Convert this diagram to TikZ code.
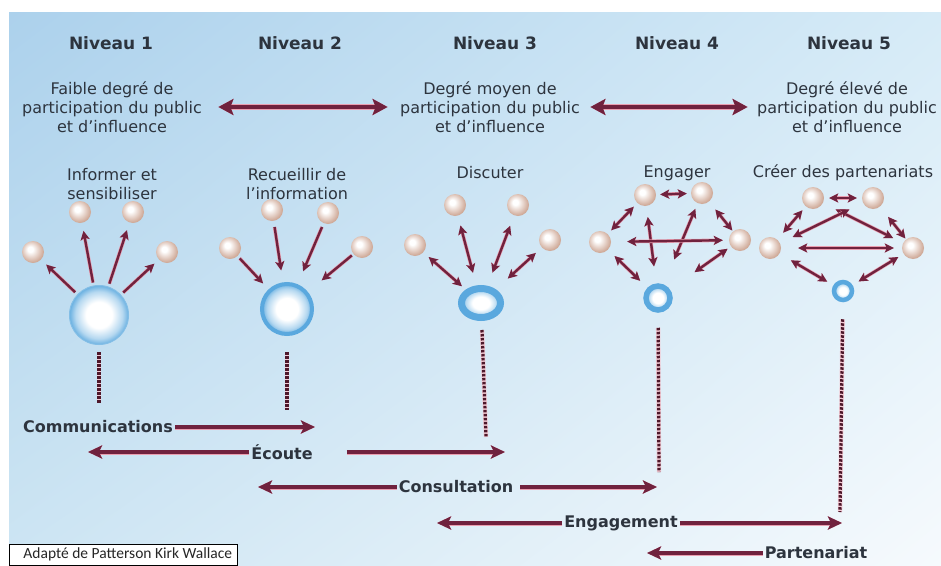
\documentclass[tikz,border=0pt]{standalone}
\usepackage{fontspec}
\setmainfont{DejaVu Sans}
\newfontfamily\srcfont{Carlito}
\usetikzlibrary{arrows.meta,shapes.geometric,shadings}

\definecolor{wine}{RGB}{112,34,62}
\definecolor{halo}{RGB}{234,158,176}
\definecolor{ink}{RGB}{45,52,62}
\definecolor{hubblue}{RGB}{90,168,222}
\definecolor{balltan}{RGB}{206,168,150}
\definecolor{skyA}{RGB}{172,209,236}
\definecolor{skyB}{RGB}{214,235,247}
\definecolor{skyC}{RGB}{205,229,243}
\definecolor{skyD}{RGB}{246,250,253}

\pgfdeclareradialshading{pearl}{\pgfpoint{-7bp}{7bp}}{color(0bp)=(white); color(6bp)=(white); color(27bp)=(balltan); color(50bp)=(balltan)}
\pgfdeclareradialshading{hubglow}{\pgfpoint{0bp}{0bp}}{color(0bp)=(white); color(11bp)=(white); color(20bp)=(hubblue!45); color(25bp)=(hubblue!90); color(50bp)=(hubblue!90)}

\tikzset{
  lvl/.style={text=ink, font=\fontsize{17}{20}\selectfont\bfseries},
  lbl/.style={text=ink, align=center, font=\fontsize{16}{19}\selectfont},
  mode/.style={text=ink, inner sep=2pt, font=\fontsize{16}{19}\selectfont\bfseries},
  pearl/.style={circle, minimum size=22pt, inner sep=0pt, shade, shading=pearl},
  hub/.style={circle, inner sep=0pt, draw=hubblue, shade, shading=hubglow},
  link/.style={draw=wine, line width=2.4pt, preaction={draw=halo, line width=3.6pt}},
  onearr/.style={link, -{Stealth[length=9pt,width=9pt,inset=2pt]}},
  twoarr/.style={link, {Stealth[length=9pt,width=9pt,inset=2pt]}-{Stealth[length=9pt,width=9pt,inset=2pt]}},
  bigarr/.style={draw=wine, line width=3.5pt, preaction={draw=halo, line width=5pt},
    -{Stealth[length=14pt,width=13pt,inset=3pt]}},
  dblarr/.style={draw=wine, line width=4.5pt, preaction={draw=halo, line width=6pt},
    {Stealth[length=15pt,width=16pt,inset=3pt]}-{Stealth[length=15pt,width=16pt,inset=3pt]}},
  dots/.style={draw=wine!70!black, line width=3.2pt, dash pattern=on 2.5pt off 1.5pt,
    preaction={draw=halo!55, line width=4.4pt, solid}},
}

\begin{document}
\begin{tikzpicture}[x=1pt, y=-1pt]
	\useasboundingbox (0,0) rectangle (941,565);
	\fill[white] (0,0) rectangle (941,565);
	\shade[upper left=skyA, upper right=skyB, lower left=skyC, lower right=skyD] (9,12) rectangle (941,565);

	% levels and texts
	\node[lvl] (n1) at (111,43) {Niveau 1};
	\node[lvl] (n2) at (300,43) {Niveau 2};
	\node[lvl] (n3) at (495,43) {Niveau 3};
	\node[lvl] (n4) at (677,43) {Niveau 4};
	\node[lvl] (n5) at (849,43) {Niveau 5};

	\node[lbl] (d1) at (112,107) {Faible degré de\\participation du public\\et d'influence};
	\node[lbl] (d3) at (490,107) {Degré moyen de\\participation du public\\et d'influence};
	\node[lbl] (d5) at (847,107) {Degré élevé de\\participation du public\\et d'influence};
	\draw[dblarr, shorten <=13pt, shorten >=9pt] (d1) -- (d3);
	\draw[dblarr, shorten <=7pt, shorten >=6pt] (d3) -- (d5);

	\node[lbl] (a1) at (112,184) {Informer et\\sensibiliser};
	\node[lbl] (a2) at (297,184) {Recueillir de\\l'information};
	\node[lbl] (a3) at (490,173) {Discuter};
	\node[lbl] (a4) at (677,173) {Engager};
	\node[lbl] (a5) at (843,173) {Créer des partenariats};

	% hubs
	\node[hub, minimum size=59pt, line width=1pt, draw=hubblue!75] (h1) at (99,315) {};
	\node[hub, minimum size=50pt, line width=4pt] (h2) at (287,309) {};
	\node[hub, ellipse, minimum width=39pt, minimum height=29pt, line width=7pt] (h3) at (481,303) {};
	\node[hub, minimum size=24pt, line width=5.5pt] (h4) at (658,298) {};
	\node[hub, minimum size=18pt, line width=4.5pt] (h5) at (843,291) {};

	% pearls
	\node[pearl] (p11) at (33,252) {};
	\node[pearl] (p12) at (80,212) {};
	\node[pearl] (p13) at (133,212) {};
	\node[pearl] (p14) at (167,252) {};
	\node[pearl] (p21) at (230,248) {};
	\node[pearl] (p22) at (272,210) {};
	\node[pearl] (p23) at (328,213) {};
	\node[pearl] (p24) at (362,247) {};
	\node[pearl] (p31) at (415,245) {};
	\node[pearl] (p32) at (455,205) {};
	\node[pearl] (p33) at (518,205) {};
	\node[pearl] (p34) at (550,240) {};
	\node[pearl] (p41) at (645,195) {};
	\node[pearl] (p42) at (702,193) {};
	\node[pearl] (p43) at (600,242) {};
	\node[pearl] (p44) at (740,240) {};
	\node[pearl] (p51) at (813,198) {};
	\node[pearl] (p52) at (873,198) {};
	\node[pearl] (p53) at (770,248) {};
	\node[pearl] (p54) at (913,248) {};

	% level 1 and 2
	\path (h1) edge[onearr, shorten <=3pt, shorten >=7pt] (p11)
		edge[onearr, shorten <=3pt, shorten >=8pt] (p12)
		edge[onearr, shorten <=3pt, shorten >=8pt] (p13)
		edge[onearr, shorten <=3pt, shorten >=6pt] (p14);
	\path (p21) edge[onearr, shorten <=3pt, shorten >=8pt] (h2);
	\path (p22) edge[onearr, shorten <=6pt, shorten >=12pt] (h2);
	\path (p23) edge[onearr, shorten <=4pt, shorten >=14pt] (h2);
	\path (p24) edge[onearr, shorten <=2pt, shorten >=18pt] (h2);

	% level 3
	\path (h3) edge[twoarr, shorten <=5pt, shorten >=7pt] (p31)
		edge[twoarr, shorten <=13pt, shorten >=10pt] (p32)
		edge[twoarr, shorten <=14pt, shorten >=11pt] (p33)
		edge[twoarr, shorten <=16pt, shorten >=8pt] (p34);

	% level 4
	\path (p41) edge[twoarr, shorten <=4pt, shorten >=4pt] (p42)
		edge[twoarr, shorten <=5pt, shorten >=5pt] (p43)
		edge[twoarr, shorten <=11pt, shorten >=17pt] (h4);
	\path (p42) edge[twoarr, shorten <=10pt, shorten >=1pt] (p44)
		edge[twoarr, shorten <=6pt, shorten >=27pt] (h4);
	\path (p43) edge[twoarr, shorten <=16pt, shorten >=6pt] (p44)
		edge[twoarr, shorten <=9pt, shorten >=10pt] (h4);
	\path (p44) edge[twoarr, shorten <=4pt, shorten >=30pt] (h4);

	% level 5
	\path (p51) edge[twoarr, shorten <=5pt, shorten >=5pt] (p52)
		edge[twoarr, shorten <=5pt, shorten >=9pt] (p53)
		edge[twoarr, shorten <=14pt, shorten >=11pt] (p54);
	\path (p52) edge[twoarr, shorten <=13pt, shorten >=1pt] (p54);
	\path (p53) edge[twoarr, shorten <=17pt, shorten >=8pt] (p54)
		edge[twoarr, shorten <=14pt, shorten >=15pt] (p52)
		edge[twoarr, shorten <=13pt, shorten >=7pt] (h5);
	\path (p54) edge[twoarr, shorten <=6pt, shorten >=7pt] (h5);

	% dotted drops
	\coordinate (t1) at (99,403);
	\coordinate (t2) at (287,410);
	\coordinate (t3) at (486,437);
	\coordinate (t4) at (659,472);
	\coordinate (t5) at (840,512);
	\draw[dots, shorten <=7pt] (h1) -- (t1);
	\draw[dots, shorten <=16pt] (h2) -- (t2);
	\draw[dots, shorten <=9pt] (h3) -- (t3);
	\draw[dots, shorten <=15pt] (h4) -- (t4);
	\draw[dots, shorten <=17pt] (h5) -- (t5);

	% modes
	\node[mode] (comm) at (98,427) {Communications};
	\node[mode] (ecoute) at (282,452) {Écoute};
	\node[mode] (consult) at (456,487) {Consultation};
	\node[mode] (engag) at (621,523) {Engagement};
	\node[mode] (parten) at (816,553) {Partenariat};

	\coordinate (comm-e) at (315,427);
	\coordinate (ecoute-w) at (88,452);
	\coordinate (ecoute-e) at (505,452);
	\coordinate (consult-w) at (258,487);
	\coordinate (consult-e) at (657,487);
	\coordinate (engag-w) at (437,523);
	\coordinate (engag-e) at (842,523);
	\coordinate (parten-w) at (647,553);

	\draw[bigarr] (comm) -- (comm-e);
	\draw[bigarr] (ecoute) -- (ecoute-w);
	\draw[bigarr, shorten <=32pt] (ecoute) -- (ecoute-e);
	\draw[bigarr] (consult) -- (consult-w);
	\draw[bigarr, shorten <=5pt] (consult) -- (consult-e);
	\draw[bigarr] (engag) -- (engag-w);
	\draw[bigarr] (engag) -- (engag-e);
	\draw[bigarr] (parten) -- (parten-w);

	% source
	\node[draw=black, line width=0.8pt, fill=white, anchor=south west, minimum width=228pt,
		minimum height=21pt, inner sep=0pt, text=black!85,
		font=\srcfont\fontsize{15.5}{17}\selectfont] (src) at (9.4,565.4) {\hspace{8pt}Adapté de Patterson Kirk Wallace};
\end{tikzpicture}
\end{document}
